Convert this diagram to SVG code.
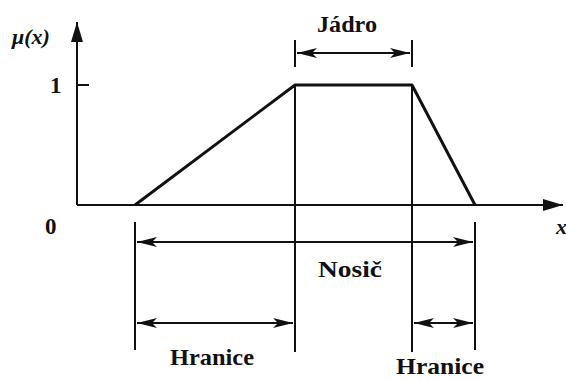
<svg xmlns="http://www.w3.org/2000/svg" width="566" height="380" viewBox="0 0 566 380">
<style>
.ln{stroke:#111;stroke-width:2;fill:none}
.thick{stroke:#111;stroke-width:3;fill:none;stroke-linejoin:round}
.lbl{font-family:"Liberation Serif","Times New Roman",serif;font-weight:bold;font-size:23px;fill:#111}
.it{font-family:"Liberation Serif","Times New Roman",serif;font-style:italic;font-weight:bold;font-size:22px;fill:#111}
.dim{stroke:#111;stroke-width:2;fill:none}
</style>
<defs>
<marker id="ah" viewBox="0 0 20 10" refX="20" refY="5" markerWidth="20" markerHeight="10" markerUnits="userSpaceOnUse" orient="auto-start-reverse">
<path d="M0,0 L20,5 L0,10 L5,5 z" fill="#111"/>
</marker>
<marker id="axh" viewBox="0 0 20 12" refX="20" refY="6" markerWidth="20" markerHeight="12" markerUnits="userSpaceOnUse" orient="auto">
<path d="M0,0 L20,6 L0,12 z" fill="#111"/>
</marker>
</defs>
<g id="axes">
<line class="ln" x1="77" y1="205" x2="563" y2="205" marker-end="url(#axh)"/>
<line class="ln" x1="77" y1="205" x2="77" y2="22" marker-end="url(#axh)"/>
<line class="ln" x1="77" y1="85" x2="89" y2="85"/>
<text class="it" x="12" y="44">μ(x)</text>
<text class="lbl" x="50" y="93" font-size="24">1</text>
<text class="lbl" x="45" y="234" font-size="24">0</text>
<text class="it" x="556" y="234">x</text>
</g>
<g id="membership">
<polyline class="thick" points="135,205 295,85 412,85 475,205"/>
</g>
<g id="connectors">
<line class="ln" x1="295" y1="85" x2="295" y2="352"/>
<line class="ln" x1="412" y1="85" x2="412" y2="352"/>
<line class="ln" x1="135" y1="222" x2="135" y2="350"/>
<line class="ln" x1="475" y1="222" x2="475" y2="350"/>
<line class="ln" x1="295" y1="40" x2="295" y2="67"/>
<line class="ln" x1="412" y1="40" x2="412" y2="67"/>
<line class="dim" x1="297" y1="53" x2="410" y2="53" marker-start="url(#ah)" marker-end="url(#ah)"/>
<line class="dim" x1="137" y1="242" x2="473" y2="242" marker-start="url(#ah)" marker-end="url(#ah)"/>
<line class="dim" x1="137" y1="323" x2="293" y2="323" marker-start="url(#ah)" marker-end="url(#ah)"/>
<line class="dim" x1="414" y1="323" x2="473" y2="323" marker-start="url(#ah)" marker-end="url(#ah)"/>
</g>
<g id="labels">
<text class="lbl" x="317" y="32" textLength="60" lengthAdjust="spacingAndGlyphs">Jádro</text>
<text class="lbl" x="318" y="277" textLength="64" lengthAdjust="spacingAndGlyphs">Nosič</text>
<text class="lbl" x="170" y="365" textLength="84" lengthAdjust="spacingAndGlyphs">Hranice</text>
<text class="lbl" x="396" y="374" textLength="88" lengthAdjust="spacingAndGlyphs">Hranice</text>
</g>
</svg>
